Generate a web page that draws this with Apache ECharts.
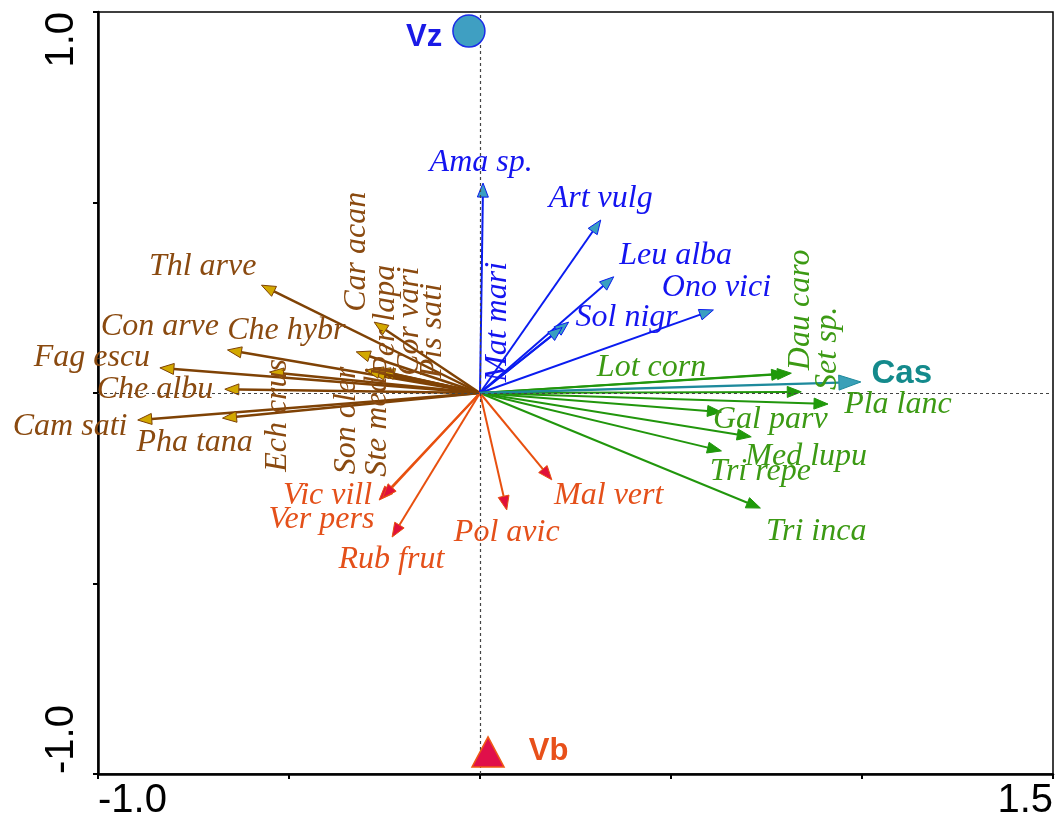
<!DOCTYPE html>
<html><head><meta charset="utf-8">
<script src="https://cdn.jsdelivr.net/npm/echarts@6/dist/echarts.min.js"></script>
<style>html,body{margin:0;padding:0;background:#fff}#c{width:1057px;height:827px}</style>
</head><body><div id="c"></div>
<script>
// ---- data (ordination scores) ----
const brownNames = ['Thl arve','Car acan','Che hybr','Con arve','Fag escu','Ech crus','Che albu','Cam sati','Pha tana','Per lapa','Cor vari','Pis sati','Son oler','Ste medi'];
const brownX = [-0.572,-0.277,-0.324,-0.661,-0.838,-0.551,-0.668,-0.896,-0.674,-0.272,-0.290,-0.260,-0.285,-0.300];
const brownY = [0.283,0.186,0.108,0.113,0.066,0.055,0.010,-0.071,-0.066,0.060,0.062,0.058,0.055,0.060];
const brownLabelX = [-0.726,-0.324,-0.507,-0.838,-1.016,-0.530,-0.851,-1.073,-0.747,-0.248,-0.185,-0.125,-0.350,-0.269];
const brownLabelY = [0.333,0.213,0.165,0.173,0.094,-0.207,0.008,-0.089,-0.129,0.045,0.045,0.039,-0.213,-0.220];
const brownVertical = [0,1,0,0,0,1,0,0,0,1,1,1,1,1];

const blueNames = ['Ama sp.','Art vulg','Leu alba','Sol nigr','Ono vici','Mat mari'];
const blueX = [0.008,0.316,0.350,0.232,0.611,0.215];
const blueY = [0.551,0.454,0.305,0.186,0.218,0.172];
const blueLabelX = [0.003,0.316,0.512,0.384,0.619,0.046];
const blueLabelY = [0.604,0.509,0.360,0.197,0.276,0.029];
const blueVertical = [0,0,0,0,0,1];

const greenNames = ['Lot corn','Dau caro','Set sp.','Pla lanc','Gal parv','Med lupu','Tri repe','Tri inca'];
const greenX = [0.815,0.800,0.841,0.911,0.632,0.710,0.632,0.734];
const greenY = [0.052,0.050,0.003,-0.029,-0.050,-0.115,-0.152,-0.302];
const greenLabelX = [0.449,0.838,0.911,1.094,0.760,0.854,0.734,0.880];
const greenLabelY = [0.066,0.060,0.008,-0.031,-0.071,-0.168,-0.207,-0.365];
const greenVertical = [0,1,1,0,0,0,0,0];

const orangeNames = ['Vic vill','Ver pers','Rub frut','Pol avic','Mal vert'];
const orangeX = [-0.264,-0.255,-0.230,0.070,0.188];
const orangeY = [-0.281,-0.275,-0.378,-0.307,-0.228];
const orangeLabelX = [-0.399,-0.415,-0.232,0.070,0.337];
const orangeLabelY = [-0.268,-0.333,-0.438,-0.367,-0.268];
const orangeVertical = [0,0,0,0,0];

const envNames = ['Cas'];
const envX = [0.997];
const envY = [0.029];
const envLabelX = [1.104];
const envLabelY = [0.050];

const sampleNames = ['Vz','Vb'];
const sampleX = [-0.029, 0.021];
const sampleY = [0.950, -0.942];

const xMin = -1.0, xMax = 1.5, yMin = -1.0, yMax = 1.0, tickStep = 0.5;

// ---- helpers ----
function arrowSeries(name, xs, ys, color, headFill, lw, headLen, headW, z) {
  return {
    type: 'custom', name: name, coordinateSystem: 'cartesian2d', clip: false, silent: true, z: z || 3,
    data: xs.map((x, i) => [x, ys[i]]),
    renderItem: function (params, api) {
      const o = api.coord([0, 0]);
      const t = api.coord([api.value(0), api.value(1)]);
      const dx = t[0] - o[0], dy = t[1] - o[1];
      const L = Math.hypot(dx, dy) || 1;
      const ux = dx / L, uy = dy / L;
      const bx = t[0] - ux * headLen, by = t[1] - uy * headLen;
      const px = -uy, py = ux;
      return {
        type: 'group', children: [
          { type: 'line', shape: { x1: o[0], y1: o[1], x2: bx, y2: by }, style: { stroke: color, lineWidth: lw } },
          { type: 'polygon', shape: { points: [[t[0], t[1]], [bx + px * headW, by + py * headW], [bx - px * headW, by - py * headW]] },
            style: { fill: headFill, stroke: color, lineWidth: 1 } }
        ]
      };
    }
  };
}
function labelSeries(names, lx, ly, vert, color, extra) {
  return {
    type: 'scatter', clip: false, silent: true, z: 6, symbolSize: 1,
    itemStyle: { color: 'rgba(0,0,0,0)', opacity: 1 },
    data: names.map((n, i) => ({
      name: n, value: [lx[i], ly[i]],
      label: vert[i] ? { rotate: 90, align: 'left' } : { rotate: 0, align: 'center' }
    })),
    label: Object.assign({
      show: true, position: 'inside', formatter: '{b}', color: color, opacity: 1,
      fontFamily: 'Liberation Serif', fontStyle: 'italic', fontSize: 32, verticalAlign: 'middle'
    }, extra || {})
  };
}

const chart = echarts.init(document.getElementById('c'), null, { renderer: 'canvas' });
const option = {
  animation: false,
  backgroundColor: '#fff',
  grid: { left: 98, right: 4, top: 12, bottom: 53, show: true, borderColor: '#000', borderWidth: 1.5, backgroundColor: 'transparent' },
  xAxis: {
    type: 'value', min: xMin, max: xMax, interval: tickStep,
    axisLine: { show: true, onZero: false, lineStyle: { color: '#000', width: 2.5 } },
    axisTick: { show: true, length: 5, lineStyle: { color: '#000', width: 2 } },
    splitLine: { show: false },
    axisLabel: {
      color: '#000', fontFamily: 'Liberation Sans', fontSize: 40, margin: 7,
      formatter: v => (Math.abs(v - xMin) < 1e-9 || Math.abs(v - xMax) < 1e-9) ? v.toFixed(1) : '',
      alignMinLabel: 'left', alignMaxLabel: 'right', showMinLabel: true, showMaxLabel: true
    }
  },
  yAxis: {
    type: 'value', min: yMin, max: yMax, interval: tickStep,
    axisLine: { show: true, onZero: false, lineStyle: { color: '#000', width: 2.5 } },
    axisTick: { show: true, length: 5, lineStyle: { color: '#000', width: 2 } },
    splitLine: { show: false },
    axisLabel: {
      color: '#000', fontFamily: 'Liberation Sans', fontSize: 40, margin: 16, rotate: 90,
      formatter: v => (Math.abs(v - yMin) < 1e-9 || Math.abs(v - yMax) < 1e-9) ? v.toFixed(1) : '',
      alignMinLabel: 'left', alignMaxLabel: 'right', showMinLabel: true, showMaxLabel: true
    }
  },
  series: [
    {
      type: 'line', data: [], silent: true,
      markLine: {
        silent: true, symbol: 'none', label: { show: false },
        lineStyle: { color: '#444', type: [3, 3], width: 1.2 },
        data: [{ xAxis: 0 }, { yAxis: 0 }]
      }
    },
    arrowSeries('brown', brownX, brownY, '#7f4205', '#d2a800', 2.5, 14, 5.5),
    arrowSeries('blue', blueX, blueY, '#0a1cf0', '#3a9fc0', 2, 14, 5.5),
    arrowSeries('green', greenX, greenY, '#21960c', '#1f9a0a', 2, 14, 5.5),
    arrowSeries('orange', orangeX, orangeY, '#e8500f', '#e0103a', 2, 14, 5.5),
    arrowSeries('env', envX, envY, '#1e8a9c', '#3aa0b8', 2.4, 22, 7.5, 4),
    labelSeries(brownNames, brownLabelX, brownLabelY, brownVertical, '#8a4a10'),
    labelSeries(blueNames, blueLabelX, blueLabelY, blueVertical, '#1414f0'),
    labelSeries(greenNames, greenLabelX, greenLabelY, greenVertical, '#3c9a14'),
    labelSeries(orangeNames, orangeLabelX, orangeLabelY, orangeVertical, '#e4501a'),
    labelSeries(envNames, envLabelX, envLabelY, [0], '#148a8c', { fontFamily: 'Liberation Sans', fontStyle: 'normal', fontWeight: 'bold', fontSize: 33 }),
    {
      type: 'scatter', clip: false, silent: true, z: 7,
      data: [
        { name: sampleNames[0], value: [sampleX[0], sampleY[0]], symbol: 'circle', symbolSize: 32,
          itemStyle: { color: '#3f9fc2', borderColor: '#1a2ce8', borderWidth: 1.5, opacity: 1 },
          label: { show: true, position: 'left', distance: 10, offset: [0, 6], color: '#1a1ae6' } },
        { name: sampleNames[1], value: [sampleX[1], sampleY[1]], symbol: 'triangle', symbolSize: [32, 30],
          itemStyle: { color: '#e0104a', borderColor: '#f05a14', borderWidth: 1.5, opacity: 1 },
          label: { show: true, position: 'right', distance: 24, color: '#e8501a' } }
      ],
      label: { formatter: '{b}', fontFamily: 'Liberation Sans', fontWeight: 'bold', fontSize: 31, opacity: 1 }
    }
  ]
};
chart.setOption(option);
</script>
</body></html>
